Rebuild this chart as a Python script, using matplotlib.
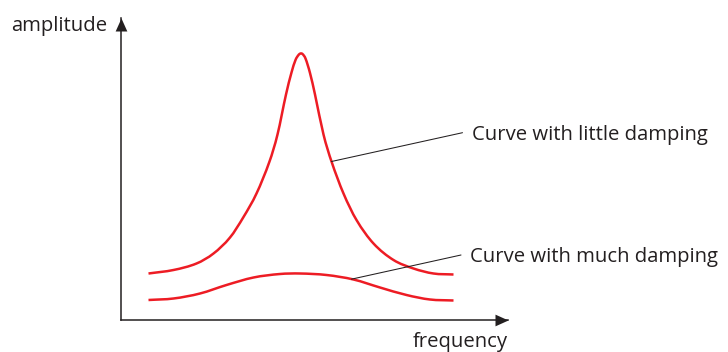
import numpy as np
import matplotlib
matplotlib.use("Agg")
import matplotlib.pyplot as plt
from matplotlib.path import Path
from matplotlib.patches import PathPatch

# ---- data (frequency / amplitude in arbitrary units) ----
freq_little = [27, 52, 75, 92, 108.5, 122, 135, 148, 156, 164.5, 170, 174, 177,
               179, 181, 184, 188.5, 193.5, 202, 210, 222, 235, 252, 272, 292, 312, 332]
amp_little = [46, 49.5, 56, 66, 82, 102.5, 126, 158, 185, 225, 247, 259.5, 264.5,
              266, 265.5, 261, 246.5, 225, 185, 158, 126, 99.5, 76, 59.5, 51, 46, 45]

freq_much = [27, 52, 78.5, 105, 132, 158.5, 178.5, 205, 232, 258.5, 285, 308.5, 332]
amp_much = [19.5, 21, 26, 34.5, 42, 45.5, 46, 44.5, 40, 32, 24.5, 20, 19]

label_little = "Curve with little damping"
label_much = "Curve with much damping"
x_label = "frequency"
y_label = "amplitude"

RED = "#ed1c24"
INK = "#231f20"

W, H = 728, 352
fig = plt.figure(figsize=(W / 100, H / 100), dpi=100)
fig.patch.set_facecolor("white")

# axes placed in pixels: origin at (121.5, 319.5), x tip 507.5, y tip 18
x0, y0, x1, y1 = 121.5, 319.5, 507.5, 18
ax = fig.add_axes([x0 / W, (H - y0) / H, (x1 - x0) / W, (y0 - y1) / H])
ax.set_xlim(0, x1 - x0)
ax.set_ylim(0, y0 - y1)
ax.set_facecolor("none")
for s in ["top", "right"]:
    ax.spines[s].set_visible(False)
for s in ["left", "bottom"]:
    ax.spines[s].set_linewidth(1.1)
    ax.spines[s].set_color(INK)
ax.set_xticks([])
ax.set_yticks([])

# arrow heads (tip at marker centre)
hw = 0.45
right_head = Path([(-1, hw), (0, 0), (-1, -hw), (-1, hw)], closed=True)
up_head = Path([(-hw, -1), (0, 0), (hw, -1), (-hw, -1)], closed=True)
ms = 2 * 13 * 72 / 100
ax.plot(1, 0, marker=right_head, ms=ms, color=INK, mew=0,
        transform=ax.transAxes, clip_on=False)
ax.plot(0, 1, marker=up_head, ms=ms, color=INK, mew=0,
        transform=ax.transAxes, clip_on=False)


def smooth_path(xs, ys):
    """Smooth (cubic Bezier) path through the given points."""
    x = np.asarray(xs, float)
    y = np.asarray(ys, float)
    n = len(x)
    m = np.empty(n)
    m[1:-1] = (y[2:] - y[:-2]) / (x[2:] - x[:-2])
    m[0] = (y[1] - y[0]) / (x[1] - x[0])
    m[-1] = (y[-1] - y[-2]) / (x[-1] - x[-2])
    verts = [(x[0], y[0])]
    codes = [Path.MOVETO]
    for i in range(n - 1):
        h = x[i + 1] - x[i]
        verts += [(x[i] + h / 3, y[i] + m[i] * h / 3),
                  (x[i + 1] - h / 3, y[i + 1] - m[i + 1] * h / 3),
                  (x[i + 1], y[i + 1])]
        codes += [Path.CURVE4] * 3
    return Path(verts, codes)


for fx, fy in [(freq_little, amp_little), (freq_much, amp_much)]:
    ax.add_patch(PathPatch(smooth_path(fx, fy), facecolor="none", edgecolor=RED,
                           lw=1.8, joinstyle="round", capstyle="butt", clip_on=False))


# leader lines pointing at the curves
def leader(x_on_curve, fx, fy, start):
    y_on_curve = float(np.interp(x_on_curve, fx, fy))
    ax.annotate("", xy=(x_on_curve, y_on_curve), xytext=start,
                arrowprops=dict(arrowstyle="-", lw=0.75, color=INK,
                                shrinkA=0, shrinkB=0), annotation_clip=False)


leader(210, freq_little, amp_little, (341, 186.8))
leader(230, freq_much, amp_much, (339.5, 64.5))

font = "Open Sans"
fs0 = 14
texts = [
    (ax.text(351, 179.5, label_little, ha="left", va="baseline"), 237.3),
    (ax.text(349, 57.5, label_much, ha="left", va="baseline"), 249.3),
    (ax.text(-110.5, 288, y_label, ha="left", va="baseline"), 95.0),
    (ax.text(386.5, -27.5, x_label, ha="right", va="baseline"), 96.3),
]
for t, _ in texts:
    t.set_fontsize(fs0)
    t.set_family(font)
    t.set_color(INK)
    t.set_clip_on(False)

fig.canvas.draw()
r = fig.canvas.get_renderer()
ratios = [target / t.get_window_extent(r).width for t, target in texts]
fs = fs0 * float(np.mean(ratios))
for t, _ in texts:
    t.set_fontsize(fs)

fig.savefig("out.png", dpi=100, facecolor="white")
